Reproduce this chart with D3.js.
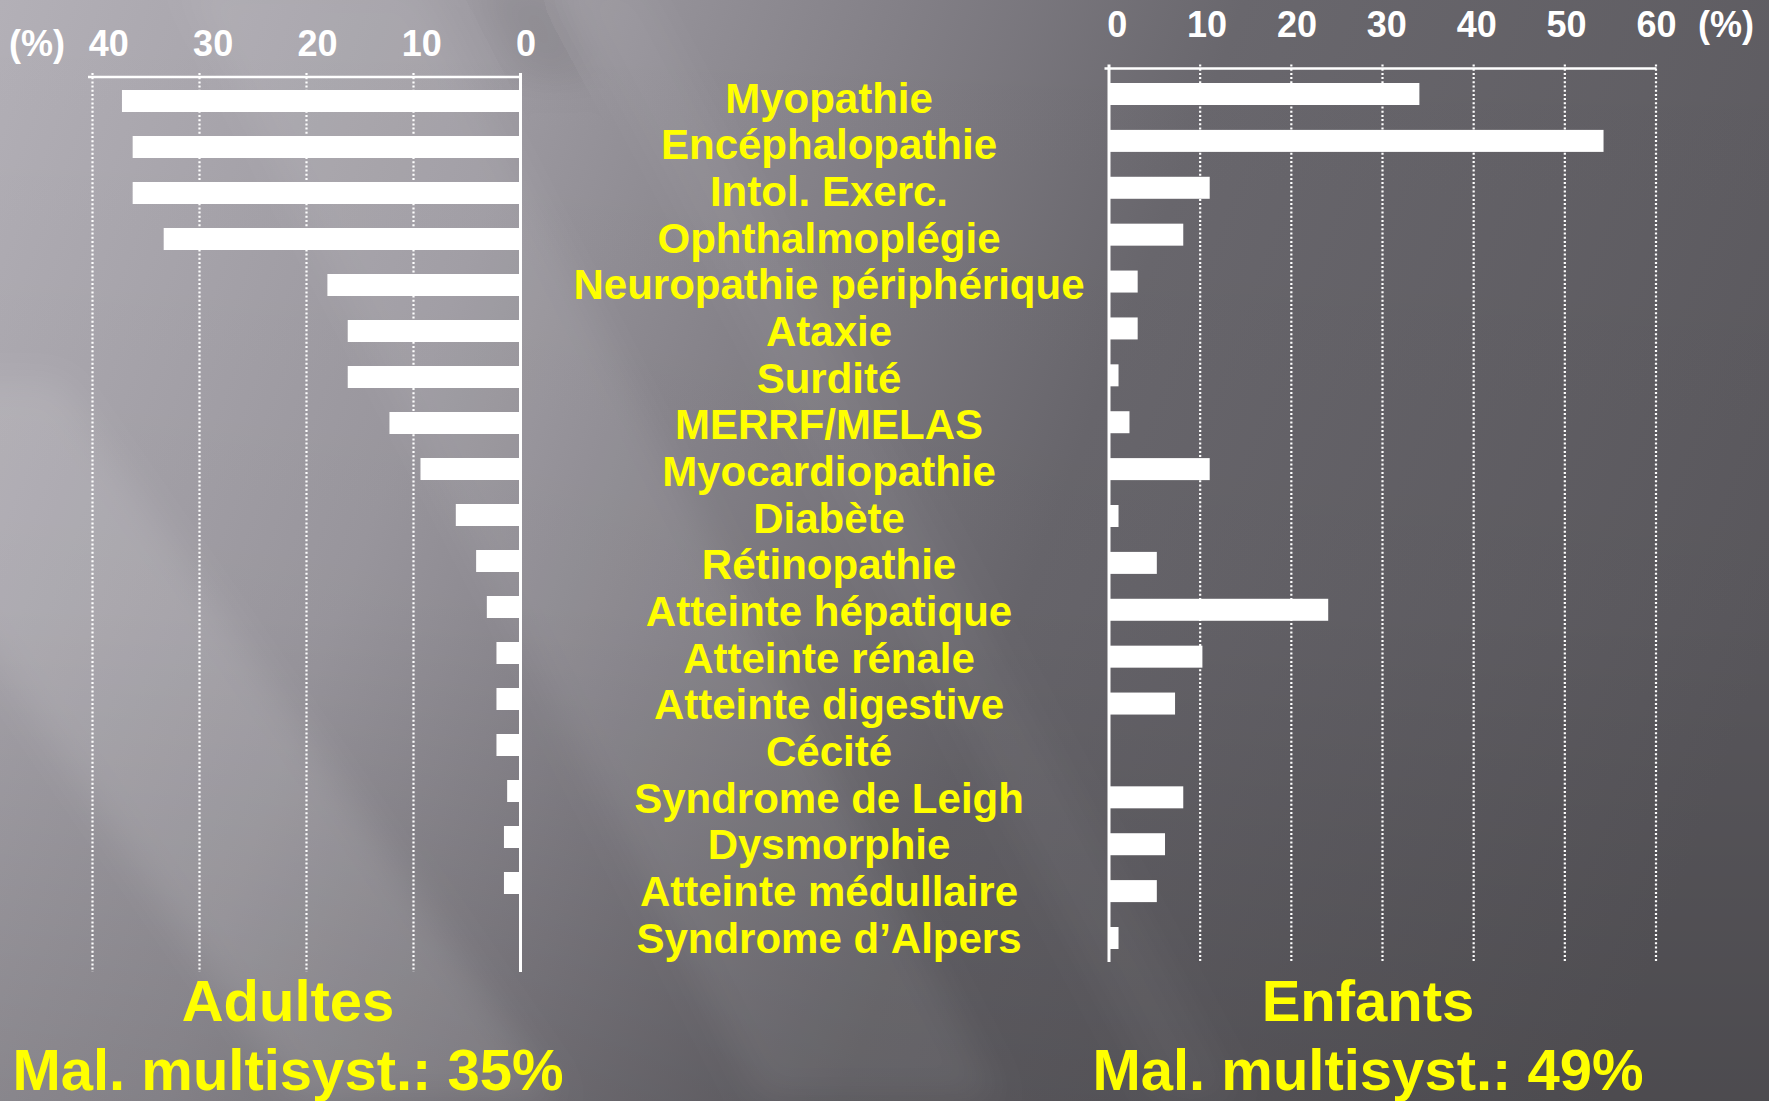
<!DOCTYPE html>
<html>
<head>
<meta charset="utf-8">
<script src="https://cdn.jsdelivr.net/npm/d3@7"></script>
<style>
  html, body { margin: 0; padding: 0; overflow: hidden; background: #77747a; }
  svg { display: block; }
  .tick-label { font-family: "Liberation Sans Narrow", "Arial Narrow", "Liberation Sans", sans-serif; font-weight: bold; fill: #ffffff; }
  .cat-label, .panel-title { font-family: "Liberation Sans", Arial, sans-serif; font-weight: bold; fill: #ffff00; }
</style>
</head>
<body>
<svg id="chart" width="1769" height="1101"></svg>
<script>
// Clinical signs, top to bottom
const categories = [
  "Myopathie", "Encéphalopathie", "Intol. Exerc.", "Ophthalmoplégie",
  "Neuropathie périphérique", "Ataxie", "Surdité", "MERRF/MELAS",
  "Myocardiopathie", "Diabète", "Rétinopathie", "Atteinte hépatique",
  "Atteinte rénale", "Atteinte digestive", "Cécité", "Syndrome de Leigh",
  "Dysmorphie", "Atteinte médullaire", "Syndrome d’Alpers"
];

// Frequency (%) of each sign, adults (left) and children (right)
const adultValues = [37.2, 36.2, 36.2, 33.3, 18.0, 16.1, 16.1, 12.2, 9.3, 6.0, 4.1, 3.1, 2.2, 2.2, 2.2, 1.2, 1.5, 1.5, 0];
const childValues = [34.1, 54.3, 11.1, 8.2, 3.2, 3.2, 1.1, 2.3, 11.1, 1.1, 5.3, 24.1, 10.3, 7.3, 0, 8.2, 6.2, 5.3, 1.1];

const adultTicks = [40, 30, 20, 10, 0];
const childTicks = [0, 10, 20, 30, 40, 50, 60];
const unitLabel = "(%)";

const adultTitle = "Adultes";
const adultNote = "Mal. multisyst.: 35%";
const childTitle = "Enfants";
const childNote = "Mal. multisyst.: 49%";

const W = 1769, H = 1101;
const svg = d3.select("#chart");
const defs = svg.append("defs");

// ---- background: grey slide with soft diagonal light streaks ----
const bg = defs.append("linearGradient").attr("id", "bgGrad")
  .attr("gradientUnits", "userSpaceOnUse")
  .attr("x1", 0).attr("y1", 0).attr("x2", W).attr("y2", 650);
[[0, "#b3b0b7"], [0.28, "#9c99a0"], [0.45, "#838087"], [0.62, "#69676d"], [1, "#5b595e"]]
  .forEach(([o, c]) => bg.append("stop").attr("offset", o).attr("stop-color", c));

const shade = defs.append("linearGradient").attr("id", "shadeGrad")
  .attr("x1", 0).attr("y1", 0).attr("x2", 0).attr("y2", 1);
shade.append("stop").attr("offset", 0).attr("stop-color", "#000").attr("stop-opacity", 0);
shade.append("stop").attr("offset", 0.55).attr("stop-color", "#000").attr("stop-opacity", 0.03);
shade.append("stop").attr("offset", 1).attr("stop-color", "#000").attr("stop-opacity", 0.16);

defs.append("filter").attr("id", "soft").attr("x", "-20%").attr("y", "-20%").attr("width", "140%").attr("height", "140%")
  .append("feGaussianBlur").attr("stdDeviation", 18);

svg.append("rect").attr("width", W).attr("height", H).attr("fill", "url(#bgGrad)");
svg.append("rect").attr("width", W).attr("height", H).attr("fill", "url(#shadeGrad)");

const streaks = svg.append("g").attr("filter", "url(#soft)");
const streakShapes = [
  { pts: [[-200, 380], [60, 380], [560, 1101], [300, 1101]], op: 0.10 },
  { pts: [[180, -20], [420, -20], [1000, 1101], [760, 1101]], op: 0.07 },
  { pts: [[560, -20], [640, -20], [1240, 1101], [1160, 1101]], op: 0.04 },
  { pts: [[470, -20], [560, -20], [600, 80], [520, 80]], op: -0.08 }
];
streakShapes.forEach(s => {
  streaks.append("polygon")
    .attr("points", s.pts.map(p => p.join(",")).join(" "))
    .attr("fill", s.op > 0 ? "#ffffff" : "#000000")
    .attr("opacity", Math.abs(s.op));
});

// ---- scales ----
const xAdult = d3.scaleLinear().domain([0, 40]).range([520, 92]);
const xChild = d3.scaleLinear().domain([0, 60]).range([1108.5, 1655.5]);
// tick numbers sit on a slightly tighter spacing than the grid lines
const xAdultText = d3.scaleLinear().domain([0, 40]).range([525.6, 108.3]);
const xChildText = d3.scaleLinear().domain([0, 60]).range([1116.7, 1656]);
const yAdult = d3.scalePoint().domain(categories).range([101, 929]);
const yChild = d3.scalePoint().domain(categories).range([94, 938]);
const yLabel = d3.scalePoint().domain(categories).range([97.5, 937.5]);
const barH = 22;

// ---- a panel: top axis, dotted grid, zero line, bars ----
function panel(x, xText, y, values, ticks, axisY, gridBottom, labelY) {
  const g = svg.append("g");
  const axis = d3.axisTop(x).tickValues(ticks).tickSize(-(gridBottom - axisY)).tickSizeOuter(0).tickPadding(0);
  const ag = g.append("g").attr("transform", `translate(0,${axisY})`).call(axis);
  ag.select(".domain").attr("stroke", "#ffffff").attr("stroke-width", 2.5)
    .attr("d", () => {
      const [a, b] = d3.extent(x.range());
      return `M${a - 4},0H${b + 1}`;
    });
  ag.selectAll(".tick line")
    .attr("y1", -4)
    .attr("stroke", "#ffffff")
    .attr("stroke-width", d => d === 0 ? 3 : 2.2)
    .attr("stroke-dasharray", d => d === 0 ? null : "2,2.2");
  ag.selectAll(".tick text")
    .attr("class", "tick-label")
    .attr("fill", null)
    .attr("font-family", null)
    .attr("font-size", 36)
    .attr("dy", null)
    .attr("y", labelY - axisY)
    .attr("dx", d => xText(d) - x(d));

  g.selectAll("rect.bar").data(values.map((v, i) => ({ v, c: categories[i] })).filter(d => d.v > 0))
    .join("rect")
    .attr("class", "bar")
    .attr("fill", "#ffffff")
    .attr("x", d => Math.min(x(0), x(d.v)))
    .attr("width", d => Math.abs(x(d.v) - x(0)))
    .attr("y", d => y(d.c) - barH / 2)
    .attr("height", barH);
  return g;
}

panel(xAdult, xAdultText, yAdult, adultValues, adultTicks, 77, 972, 56);
panel(xChild, xChildText, yChild, childValues, childTicks, 68.5, 962, 37);

// unit labels
svg.append("text").attr("class", "tick-label").attr("font-size", 36)
  .attr("x", 37).attr("y", 56).attr("text-anchor", "middle").text(unitLabel);
svg.append("text").attr("class", "tick-label").attr("font-size", 36)
  .attr("x", 1726).attr("y", 37).attr("text-anchor", "middle").text(unitLabel);

// ---- category labels in the middle ----
svg.append("g").selectAll("text").data(categories).join("text")
  .attr("class", "cat-label")
  .attr("font-size", 42)
  .attr("text-anchor", "middle")
  .attr("x", 829)
  .attr("y", d => yLabel(d) + 15)
  .text(d => d);

// ---- panel titles ----
[[288, adultTitle, adultNote], [1368, childTitle, childNote]].forEach(([cx, t, n]) => {
  svg.append("text").attr("class", "panel-title").attr("font-size", 58)
    .attr("text-anchor", "middle").attr("x", cx).attr("y", 1021).text(t);
  svg.append("text").attr("class", "panel-title").attr("font-size", 58)
    .attr("text-anchor", "middle").attr("x", cx).attr("y", 1090).text(n);
});
</script>
</body>
</html>
